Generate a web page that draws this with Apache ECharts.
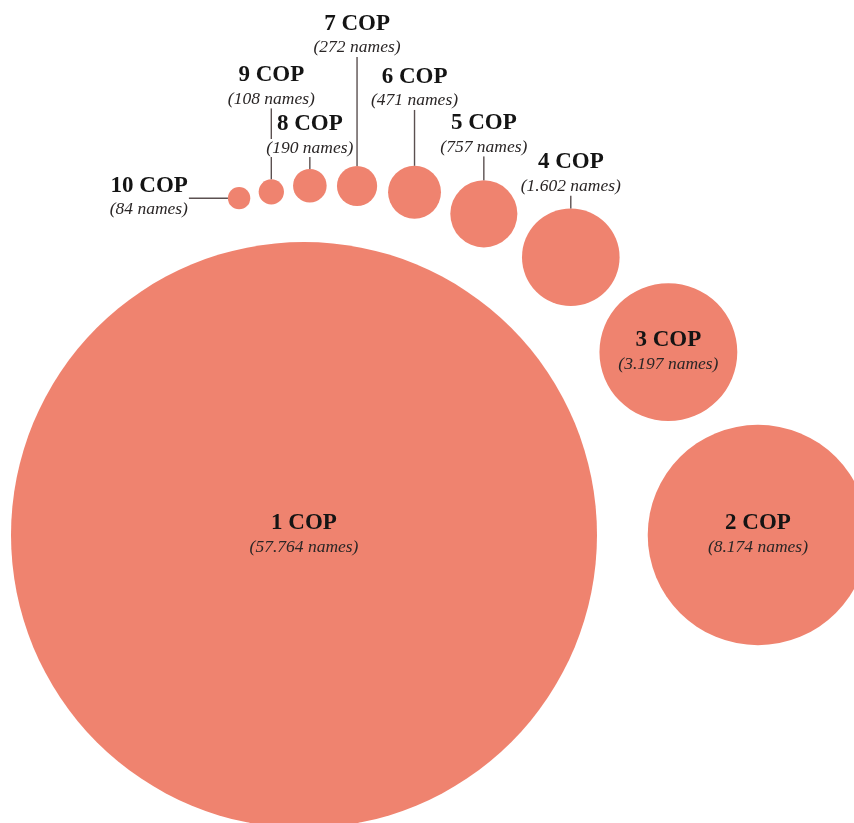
<!DOCTYPE html>
<html>
<head>
<meta charset="utf-8">
<title>COP names</title>
<script src="https://cdn.jsdelivr.net/npm/echarts@6/dist/echarts.min.js"></script>
<style>
  html, body { margin: 0; padding: 0; background: #fff; }
  #chart { width: 854px; height: 823px; }
</style>
</head>
<body>
<div id="chart"></div>
<script>
// number of COPs a name belongs to, and how many names
const categories = ["1 COP", "2 COP", "3 COP", "4 COP", "5 COP", "6 COP", "7 COP", "8 COP", "9 COP", "10 COP"];
const nameCounts = [57764, 8174, 3197, 1602, 757, 471, 272, 190, 108, 84];

// label placement: inside the bubble, above it with a leader, or left of it
const labelPlace = ["inside", "inside", "inside", "top", "top", "top", "top", "top", "top", "left"];
const leaderLen = [0, 0, 0, 13, 24, 56, 109, 12, 71, 39];

const FILL = "#ef836f";
const LINE = "#5b5050";
const FONT = "'Liberation Serif', 'Times New Roman', serif";

// bubble area ~ value, big bubble anchors the layout, the rest spiral round it
const K = 293 / Math.sqrt(nameCounts[0]);
const CX = 304, CY = 535;
const radii = nameCounts.map(v => K * Math.sqrt(v));

function layout() {
  const R0 = radii[0];
  const dist = radii.map((r, i) => (i === 0 ? 0 : R0 + 37.5 + 1.12 * r));
  const pts = [[CX, CY]];
  let ang = 0;
  for (let i = 1; i < radii.length; i++) {
    if (i > 1) {
      const s = radii[i - 1] + radii[i];
      const chord = s * 1.1 + 6.6;
      const a = dist[i - 1], b = dist[i];
      ang += Math.acos((a * a + b * b - chord * chord) / (2 * a * b));
    }
    pts.push([CX + dist[i] * Math.cos(ang), CY - dist[i] * Math.sin(ang)]);
  }
  return pts;
}

function fmt(v) {
  return String(v).replace(/\B(?=(\d{3})+(?!\d))/g, ".");
}

const pts = layout();
const seriesData = pts.map((p, i) => [p[0], p[1], radii[i], i]);

function txt(text, x, y, bold, align, bg) {
  return {
    type: "text",
    z2: 10,
    style: {
      text: text,
      x: x,
      y: y,
      fill: bold ? "#141414" : "#2a2626",
      font: (bold ? "bold 23px " : "italic 17.5px ") + FONT,
      align: align || "center",
      verticalAlign: "middle",
      textAlign: align || "center",
      textVerticalAlign: "middle",
      backgroundColor: bg || null
    }
  };
}

const chart = echarts.init(document.getElementById("chart"));

chart.setOption({
  animation: false,
  backgroundColor: "#fff",
  grid: { left: 0, right: 0, top: 0, bottom: 0 },
  xAxis: { type: "value", min: 0, max: 854, show: false },
  yAxis: { type: "value", min: 0, max: 823, inverse: true, show: false },
  series: [
    {
      type: "custom",
      coordinateSystem: "cartesian2d",
      clip: false,
      silent: true,
      encode: { x: 0, y: 1 },
      data: seriesData,
      renderItem: function (params, api) {
        const i = api.value(3);
        const c = api.coord([api.value(0), api.value(1)]);
        const r = api.size([api.value(2), 0])[0];
        const title = categories[i];
        const sub = "(" + fmt(nameCounts[i]) + " names)";
        const kids = [
          { type: "circle", shape: { cx: c[0], cy: c[1], r: r }, style: { fill: FILL } }
        ];
        const place = labelPlace[i];
        const lead = leaderLen[i];
        if (place === "inside") {
          kids.push(txt(title, c[0], c[1] - 12, true));
          kids.push(txt(sub, c[0], c[1] + 12, false));
        } else if (place === "top") {
          const top = c[1] - r;
          const lineTop = top - lead;
          kids.push({
            type: "line",
            z2: 1,
            shape: { x1: c[0], y1: top, x2: c[0], y2: lineTop },
            style: { stroke: LINE, lineWidth: 1.4 }
          });
          kids.push(txt(sub, c[0], lineTop - 9, false, "center", "#fff"));
          kids.push(txt(title, c[0], lineTop - 33, true));
        } else {
          const left = c[0] - r;
          const x0 = left - lead;
          kids.push({
            type: "line",
            z2: 1,
            shape: { x1: left, y1: c[1], x2: x0, y2: c[1] },
            style: { stroke: LINE, lineWidth: 1.4 }
          });
          kids.push(txt(title, x0 - 1, c[1] - 12, true, "right"));
          kids.push(txt(sub, x0 - 1, c[1] + 11, false, "right"));
        }
        return { type: "group", children: kids };
      }
    }
  ]
});
</script>
</body>
</html>
